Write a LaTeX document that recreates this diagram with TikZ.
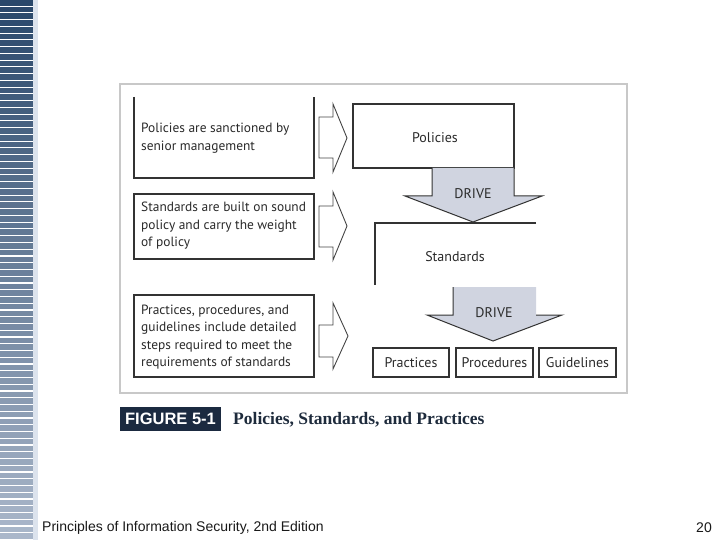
\documentclass[tikz,border=0pt]{standalone}
\usepackage{fontspec}
\setmainfont{PT Sans}
\newfontfamily\capserif{Liberation Serif}
\newfontfamily\arialfont{Liberation Sans}
\definecolor{barTop}{HTML}{2A486B}
\definecolor{barBot}{HTML}{AAB7CA}
\definecolor{barPale}{HTML}{DCE3ED}
\definecolor{framec}{HTML}{C8C8C8}
\definecolor{boxline}{HTML}{333333}
\definecolor{chevc}{HTML}{444444}
\definecolor{textc}{HTML}{2A2A2A}
\definecolor{drivefill}{HTML}{D0D4E0}
\definecolor{capbox}{HTML}{1B2A40}
\definecolor{captext}{HTML}{1E2B3C}
\begin{document}
\begin{tikzpicture}[x=1pt,y=-1pt,
  box/.style={draw=boxline, line width=1.1pt, inner sep=0pt},
  txt/.style={font=\fontsize{13.4}{17.5}\selectfont, text=textc, align=left, inner sep=0pt},
  lbl/.style={font=\fontsize{14}{17}\selectfont, text=textc, inner sep=0pt},
  chev/.style={draw=chevc, line width=0.9pt, fill=white, line join=miter},
  drivefillst/.style={fill=drivefill},
  drivestroke/.style={draw=boxline, line width=1pt, line join=miter},
]
\useasboundingbox (0,0) rectangle (720,540);
\fill[white] (0,0) rectangle (720,540);
% left striped bar
\foreach \i in {0,...,79}{
  \pgfmathsetmacro\p{100*\i/79}
  \fill[barBot!\p!barTop] (0,{\i*6.75}) rectangle (33,{\i*6.75+5.6});
}
\fill[barPale] (33,0) rectangle (38,540);

% frame
\node[draw=framec, line width=2pt, minimum width=507pt, minimum height=309pt, inner sep=0pt] (frame) at (373.5,238.5) {};

% left text boxes
\node[txt, anchor=west] (t1) at (141,138) {Policies are sanctioned by\\senior management};
\draw[boxline, line width=1.1pt] (134,97) -- (134,178) -- (314,178) -- (314,97);

\node[box, minimum width=180pt, minimum height=65pt] (b2) at (224,226.5) {};
\node[txt, anchor=west] (t2) at (141,226) {Standards are built on sound\\policy and carry the weight\\of policy};

\node[box, minimum width=180pt, minimum height=82pt] (b3) at (224,336) {};
\node[txt, anchor=west] (t3) at (141,337) {Practices, procedures, and\\guidelines include detailed\\steps required to meet the\\requirements of standards};

% chevrons
\draw[chev] (319,117) -- (333,117) -- (333,104) -- (347,138) -- (333,172) -- (333,158) -- (319,158) -- cycle;
\draw[chev] (319,206) -- (333,206) -- (333,192) -- (347,226) -- (333,260) -- (333,247) -- (319,247) -- cycle;
\draw[chev] (319,325) -- (333,325) -- (333,303) -- (348,336) -- (333,369) -- (333,357) -- (319,357) -- cycle;

% Policies box
\node[box, minimum width=161pt, minimum height=64pt] (pol) at (433.5,136) {};
\node[lbl] (polt) at (435,138) {Policies};

% DRIVE 1
\fill[drivefillst] (432,168) -- (514,168) -- (514,196) -- (542,196) -- (473,222) -- (405,196) -- (432,196) -- cycle;
\draw[drivestroke] (432,168) -- (432,196) -- (405,196) -- (473,222) -- (542,196) -- (514,196) -- (514,168);
\node[lbl] (d1) at (473,194) {DRIVE};

% Standards
\draw[boxline, line width=1.1pt] (536,223) -- (375,223) -- (375,285);
\node[lbl] (std) at (455,257) {Standards};

% DRIVE 2
\fill[drivefillst] (453,287) -- (536,287) -- (536,315) -- (562,315) -- (493,341) -- (427,315) -- (453,315) -- cycle;
\draw[drivestroke] (453,287) -- (453,315) -- (427,315) -- (493,341) -- (562,315) -- (536,315);
\node[lbl] (d2) at (494,313) {DRIVE};

% bottom boxes
\node[box, minimum width=76pt, minimum height=29pt, font=\fontsize{14}{17}\selectfont, text=textc] (prac) at (411,362.5) {Practices};
\node[box, minimum width=77pt, minimum height=29pt, font=\fontsize{14}{17}\selectfont, text=textc] (proc) at (494.5,362.5) {Procedures};
\node[box, minimum width=77pt, minimum height=29pt, font=\fontsize{14}{17}\selectfont, text=textc] (guid) at (577.5,362.5) {Guidelines};

% caption
\node[fill=capbox, minimum width=101pt, minimum height=24pt, inner sep=0pt, text=white, font=\arialfont\bfseries\fontsize{16.5}{18}\selectfont] (figlbl) at (170.5,419) {FIGURE 5-1};
\node[anchor=west, inner sep=0pt, text=captext, font=\capserif\bfseries\fontsize{17.5}{20}\selectfont] (figcap) at (233,420) {Policies, Standards, and Practices};

% footer
\node[anchor=west, inner sep=0pt, text=black!90, font=\arialfont\fontsize{14}{16}\selectfont] (foot) at (42,528) {Principles of Information Security, 2nd Edition};
\node[anchor=east, inner sep=0pt, text=black!90, font=\arialfont\fontsize{14}{16}\selectfont] (page) at (712,528) {20};
\end{tikzpicture}
\end{document}
